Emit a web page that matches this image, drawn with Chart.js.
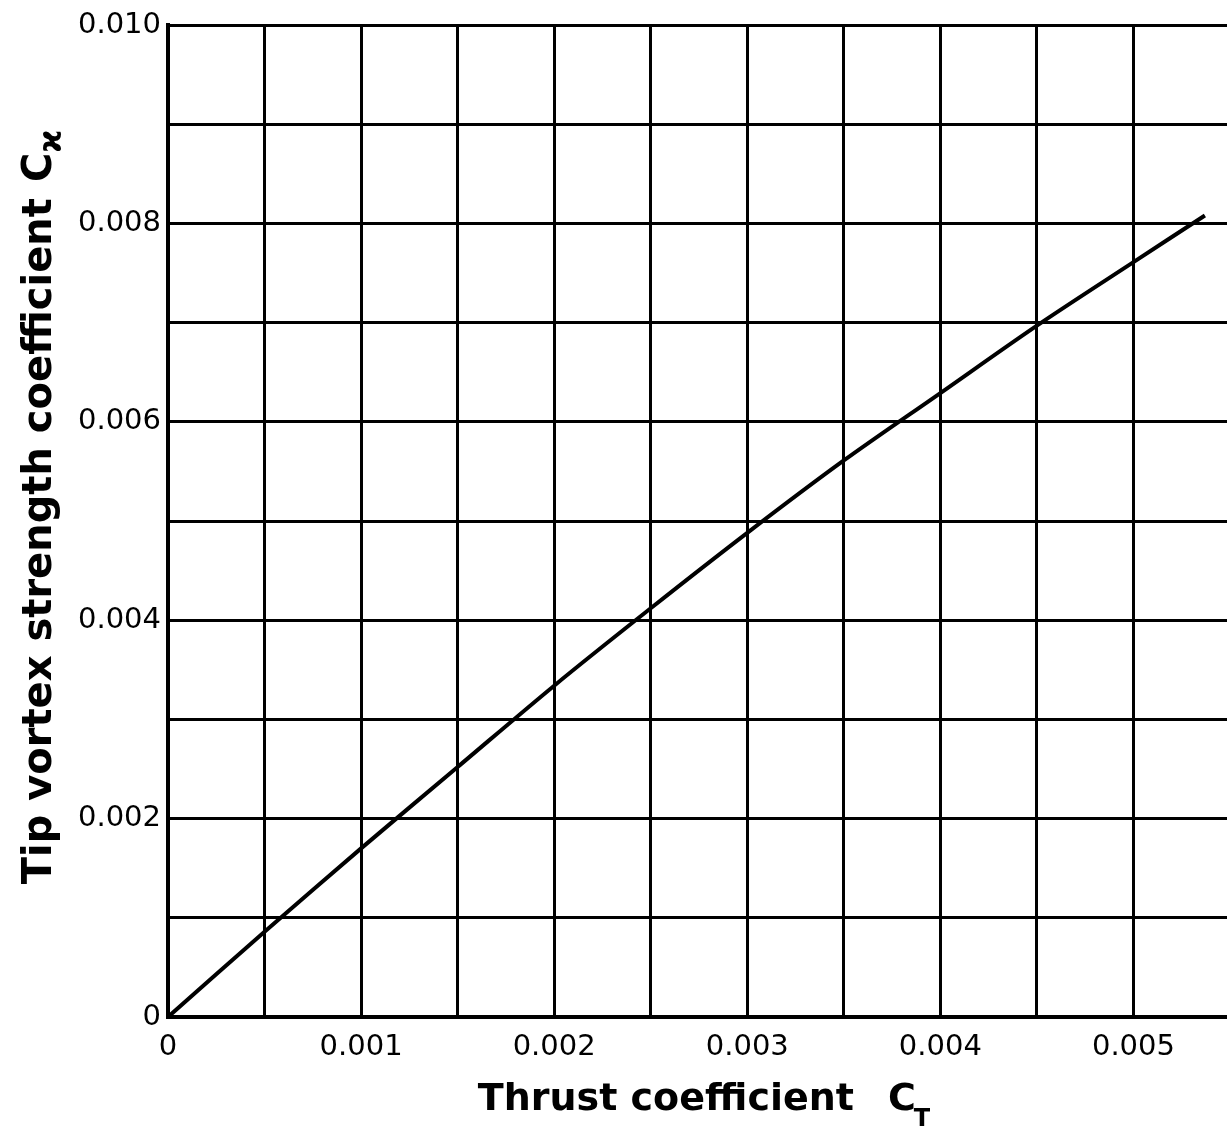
<!DOCTYPE html>
<html>
<head>
<meta charset="utf-8">
<title>Tip vortex strength coefficient vs thrust coefficient</title>
<script src="https://cdn.jsdelivr.net/npm/chart.js@4.4.0/dist/chart.umd.min.js"></script>
<style>
    html, body { margin: 0; padding: 0; background: #fff; overflow: hidden; }
    /* wider than the window: the right frame line at 0.0055 falls just off the picture
       (Chart.js keeps ~12px of tick padding on the right) */
    #box { position: relative; width: 1243px; height: 1127px; }
</style>
</head>
<body>
<div id="box"><canvas id="grafico"></canvas></div>
<script>

// ------------------- dati -------------------
var thrustCoeff = [0, 0.0005, 0.001, 0.0015, 0.002, 0.0025, 0.003, 0.0035, 0.004, 0.0045, 0.005, 0.00537];
var vortexCoeff = [0, 0.00086, 0.0017, 0.00252, 0.00334, 0.00412, 0.00488, 0.00561, 0.00629, 0.00697, 0.00761, 0.00808];

// tick con etichetta (le altre linee della griglia restano senza testo)
var xTickValues = [0, 0.001, 0.002, 0.003, 0.004, 0.005];
var xTickLabels = ['0', '0.001', '0.002', '0.003', '0.004', '0.005'];
var yTickValues = [0, 0.002, 0.004, 0.006, 0.008, 0.010];
var yTickLabels = ['0', '0.002', '0.004', '0.006', '0.008', '0.010'];

var xTitle = 'Thrust coefficient';
var xTitleSymbol = 'C';
var xTitleSub = 'T';
var yTitle = 'Tip vortex strength coefficient';
var yTitleSymbol = 'C';
var yTitleSub = 'ϰ';

// --------------------------------------------------------------

var punti = [];
for (var i = 0; i < thrustCoeff.length; i++) {
    punti.push({x: thrustCoeff[i], y: vortexCoeff[i]});
}

function etichetta(value, valori, testi) {
    for (var i = 0; i < valori.length; i++) {
        if (Math.abs(value - valori[i]) < 1e-7) {
            return testi[i];
        }
    }
    return '';
}

// titoli degli assi con il pedice, disegnati a mano sul canvas
var titoliAssi = {
    id: 'titoliAssi',
    afterDraw: function (chart) {
        var ctx = chart.ctx;
        var area = chart.chartArea;
        ctx.save();
        ctx.fillStyle = '#000';
        ctx.textAlign = 'left';
        ctx.textBaseline = 'alphabetic';

        // asse x
        ctx.font = 'bold 38px "DejaVu Sans"';
        var w1 = ctx.measureText(xTitle).width;
        var wC = ctx.measureText(xTitleSymbol).width;
        ctx.font = 'bold 24px "DejaVu Sans"';
        var wS = ctx.measureText(xTitleSub).width;
        var gap = 34;
        var tot = w1 + gap + wC + wS;
        var x0 = 705 - tot / 2;
        var base = area.bottom + 93;
        ctx.font = 'bold 38px "DejaVu Sans"';
        ctx.fillText(xTitle, x0, base);
        ctx.fillText(xTitleSymbol, x0 + w1 + gap, base);
        ctx.font = 'bold 24px "DejaVu Sans"';
        ctx.fillText(xTitleSub, x0 + w1 + gap + wC - 2, base + 16);

        // asse y (ruotato)
        ctx.translate(area.left - 117, (area.top + area.bottom) / 2 - 14);
        ctx.rotate(-Math.PI / 2);
        ctx.font = 'bold 40px "DejaVu Sans"';
        var h1 = ctx.measureText(yTitle).width;
        var hC = ctx.measureText(yTitleSymbol).width;
        ctx.font = 'bold 31px "DejaVu Sans"';
        var hS = ctx.measureText(yTitleSub).width;
        var gapY = 16;
        var totY = h1 + gapY + hC + hS;
        var s0 = -totY / 2;
        ctx.font = 'bold 40px "DejaVu Sans"';
        ctx.fillText(yTitle, s0, 0);
        ctx.fillText(yTitleSymbol, s0 + h1 + gapY, 0);
        ctx.font = 'bold 31px "DejaVu Sans"';
        ctx.fillText(yTitleSub, s0 + h1 + gapY + hC, 10);

        ctx.restore();
    }
};

var ctx = document.getElementById('grafico');
var chart = new Chart(ctx, {
    type: 'scatter',
    data: {
        datasets: [{
            data: punti,
            showLine: true,
            borderColor: '#000',
            borderWidth: 4,
            pointRadius: 0,
            tension: 0.3,
            fill: false
        }]
    },
    options: {
        responsive: true,
        maintainAspectRatio: false,
        animation: false,
        layout: { padding: { top: 25, left: 0, right: 0, bottom: 0 } },
        plugins: {
            legend: { display: false },
            tooltip: { enabled: false }
        },
        scales: {
            x: {
                type: 'linear',
                min: 0,
                max: 0.0055,
                afterFit: function (scale) { scale.height = 110; },
                grid: { color: '#000', lineWidth: 3, drawTicks: false },
                border: { color: '#000', width: 4 },
                ticks: {
                    stepSize: 0.0005,
                    autoSkip: false,
                    maxRotation: 0,
                    minRotation: 0,
                    padding: 13,
                    color: '#000',
                    font: { family: 'DejaVu Sans', size: 29 },
                    callback: function (value) { return etichetta(value, xTickValues, xTickLabels); }
                }
            },
            y: {
                type: 'linear',
                min: 0,
                max: 0.010,
                afterFit: function (scale) { scale.width = 168; },
                grid: { color: '#000', lineWidth: 3, drawTicks: false },
                border: { color: '#000', width: 4 },
                ticks: {
                    stepSize: 0.001,
                    autoSkip: false,
                    padding: 7,
                    color: '#000',
                    font: { family: 'DejaVu Sans', size: 29 },
                    callback: function (value) { return etichetta(value, yTickValues, yTickLabels); }
                }
            }
        }
    },
    plugins: [titoliAssi]
});

</script>
</body>
</html>
